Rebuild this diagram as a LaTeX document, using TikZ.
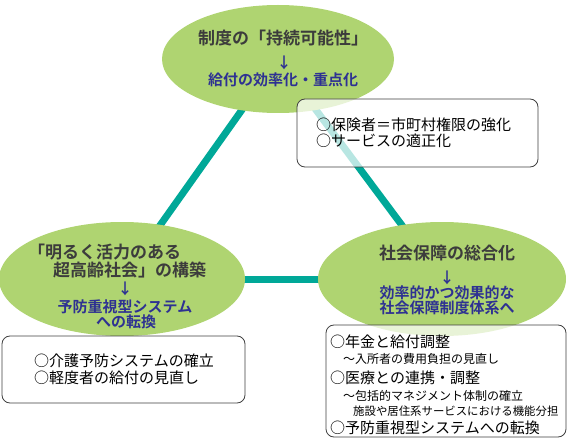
\documentclass[tikz,border=0pt]{standalone}
\usepackage{fontspec}
\setmainfont{Noto Sans CJK JP}[BoldFont={Noto Sans CJK JP Bold}]
\usetikzlibrary{shapes.geometric}
\pgfdeclarelayer{background}
\pgfsetlayers{background,main}
\definecolor{egreen}{RGB}{175,212,113}
\definecolor{tealline}{RGB}{0,168,152}
\definecolor{titlegray}{RGB}{60,60,60}
\definecolor{subblue}{RGB}{46,49,146}
\definecolor{boxline}{RGB}{64,64,64}
\tikzset{
  oval/.style={ellipse, fill=egreen, draw=none, inner sep=0pt},
  link/.style={draw=tealline, line width=7pt},
  ttl/.style={text=titlegray, font=\fontsize{17}{20}\selectfont\bfseries, inner sep=0pt},
  sub/.style={text=subblue, font=\fontsize{15}{17}\selectfont\bfseries, inner sep=0pt},
  arr/.style={text=subblue, font=\fontsize{15}{17}\selectfont\bfseries, inner sep=0pt},
  infobox/.style={draw=boxline, line width=0.8pt, rounded corners=8pt, fill=white, fill opacity=0.72},
  btxt/.style={text=black, font=\fontsize{15}{17}\selectfont, inner sep=0pt, anchor=west},
  stxt/.style={text=black, font=\fontsize{12}{14}\selectfont, inner sep=0pt, anchor=west}
}
\begin{document}
\begin{tikzpicture}[x=1pt, y=-1pt]
\useasboundingbox (0,0) rectangle (568,441);
% ellipses
\node[oval, minimum width=232pt, minimum height=108pt] (top) at (278,59) {};
\node[oval, minimum width=246pt, minimum height=114pt] (left) at (122,279) {};
\node[oval, minimum width=248pt, minimum height=114pt] (right) at (442,279) {};
% links behind ellipses
\begin{pgfonlayer}{background}
\path[link] (top.center) -- (left.center);
\path[link] (top.center) -- (right.center);
\path[link] (left.center) -- (right.center);
\end{pgfonlayer}
% top ellipse text
\node[ttl] (t1) at (283,38) {制度の「持続可能性」};
\node[arr] (ta) at (284,63) {↓};
\node[sub] (t2) at (283,80) {給付の効率化・重点化};
% left ellipse text
\node[ttl, anchor=west] (l1) at (28,252) {「明るく活力のある};
\node[ttl, anchor=west] (l2) at (53,270) {超高齢社会」の構築};
\node[arr] (la) at (125,289) {↓};
\node[sub] (l3) at (125,307) {予防重視型システム};
\node[sub] (l4) at (126,322) {への転換};
% right ellipse text
\node[ttl] (r1) at (447,253) {社会保障の総合化};
\node[arr] (ra) at (447,278) {↓};
\node[sub] (r2) at (447,293) {効率的かつ効果的な};
\node[sub] (r3) at (447,308) {社会保障制度体系へ};
% boxes
\path[infobox] (297,99) rectangle (538,167);
\node[btxt] (b11) at (316,125) {○保険者＝市町村権限の強化};
\node[btxt] (b12) at (316,141) {○サービスの適正化};
\path[infobox] (2,336) rectangle (245,403);
\node[btxt] (b21) at (34,361) {○介護予防システムの確立};
\node[btxt] (b22) at (34,378) {○軽度者の給付の見直し};
\path[infobox] (326,325) rectangle (566,437);
\node[btxt] (b31) at (330,342) {○年金と給付調整};
\node[stxt] (b32) at (343,359) {～入所者の費用負担の見直し};
\node[btxt] (b33) at (330,378) {○医療との連携・調整};
\node[stxt] (b34) at (343,396) {～包括的マネジメント体制の確立};
\node[stxt, font=\fontsize{11.4}{13}\selectfont] (b35) at (353,411) {施設や居住系サービスにおける機能分担};
\node[btxt] (b36) at (330,428) {○予防重視型システムへの転換};
\end{tikzpicture}
\end{document}
